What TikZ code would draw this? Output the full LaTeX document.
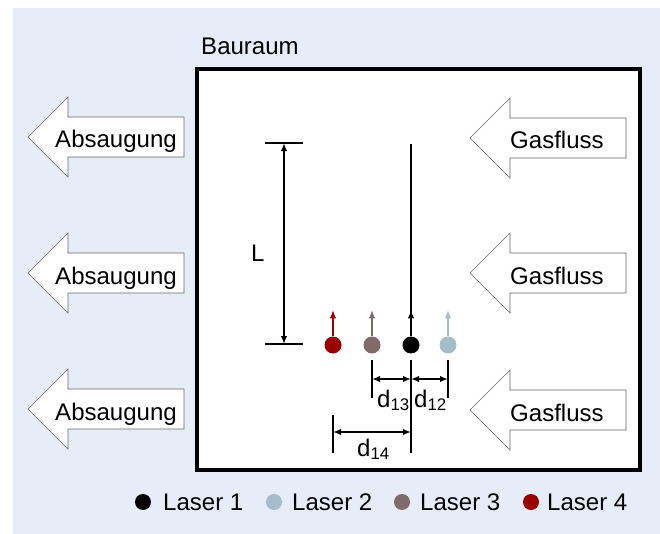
\documentclass[tikz,border=0pt]{standalone}
\usepackage{fontspec}
\setmainfont{Liberation Sans}
\usetikzlibrary{arrows.meta}
\definecolor{bgblue}{RGB}{230,237,248}
\definecolor{laserblue}{RGB}{165,188,202}
\definecolor{laserbrown}{RGB}{128,106,106}
\definecolor{laserred}{RGB}{155,0,0}

\begin{document}
\begin{tikzpicture}[x=0.03cm,y=-0.03cm,
        txt/.style={font=\fontsize{20.5}{24}\selectfont,inner sep=0pt,anchor=base west},
        blockarrow/.style={draw=black!60,fill=white,line width=0.5pt},
        dot/.style={circle,inner sep=0pt,minimum size=0.51cm},
        legdot/.style={circle,inner sep=0pt,minimum size=0.48cm},
        dim/.style={line width=1.3pt},
        tip/.tip={Latex[length=0.24cm,width=0.19cm]},
        beam/.style={line width=0.9pt,-tip}]
                \useasboundingbox(0,0)rectangle(660,534);
                \fill[bgblue](13,8)rectangle(660,534);
                \draw[fill=white,line width=3.4pt](197,69)rectangle(640,470);
                \node[txt] (bauraum) at (201,55){Bauraum};
                % Absaugung
                \draw[blockarrow](28,137)--++(40,-40)--++(0,20)--++(116,0)--++(0,40)--++(-116,0)--++(0,20)--cycle;
                \draw[blockarrow](28,273)--++(40,-40)--++(0,20)--++(116,0)--++(0,40)--++(-116,0)--++(0,20)--cycle;
                \draw[blockarrow](28,409)--++(40,-40)--++(0,20)--++(116,0)--++(0,40)--++(-116,0)--++(0,20)--cycle;
                \node[txt] (abs1) at (55,148){Absaugung};
                \node[txt] (abs2) at (55,284){Absaugung};
                \node[txt] (abs3) at (55,420){Absaugung};
                % Gasfluss
                \draw[blockarrow](470,138)--++(40,-40)--++(0,20)--++(116,0)--++(0,40)--++(-116,0)--++(0,20)--cycle;
                \draw[blockarrow](470,273)--++(40,-40)--++(0,20)--++(116,0)--++(0,40)--++(-116,0)--++(0,20)--cycle;
                \draw[blockarrow](470,410)--++(40,-40)--++(0,20)--++(116,0)--++(0,40)--++(-116,0)--++(0,20)--cycle;
                \node[txt] (gas1) at (510,149){Gasfluss};
                \node[txt] (gas2) at (510,284){Gasfluss};
                \node[txt] (gas3) at (510,421){Gasfluss};
                % Laenge L
                \coordinate (ltop) at (284,143);
                \coordinate (lbot) at (284,344);
                \draw[dim](265,143)--(303,143);
                \draw[dim](265,344)--(303,344);
                \draw[dim,tip-tip](ltop)--(lbot);
                \node[txt] (lab) at (251,262){L};
                % Laser
                \node[dot,fill=laserred] (l4) at (333,345){};
                \node[dot,fill=laserbrown] (l3) at (372,345){};
                \node[dot,fill=black] (l1) at (411,345){};
                \node[dot,fill=laserblue] (l2) at (448,345){};
                \coordinate (track) at (411,144);
                \draw[dim](l1.north)--(track);
                \draw[beam](l1.north)--++(0,-26);
                \draw[beam,laserred](l4.north)--++(0,-26);
                \draw[beam,laserbrown](l3.north)--++(0,-26);
                \draw[beam,laserblue](l2.north)--++(0,-26);
                % Abstaende
                \coordinate (t3) at (372,379);
                \coordinate (t1) at (411,379);
                \coordinate (t2) at (448,379);
                \coordinate (t4) at (333,432);
                \coordinate (t1b) at (411,432);
                \draw[dim](372,360)--(372,398);
                \draw[dim](411,360)--(411,453);
                \draw[dim](448,360)--(448,398);
                \draw[dim](333,415)--(333,453);
                \draw[dim,tip-tip](t3)--(t1);
                \draw[dim,tip-tip](t1)--(t2);
                \draw[dim,tip-tip](t4)--(t1b);
                \node[txt] (d13) at (377,407){d\textsubscript{13}};
                \node[txt] (d12) at (414,407){d\textsubscript{12}};
                \node[txt] (d14) at (357,456){d\textsubscript{14}};
                % Legende
                \node[legdot,fill=black] (leg1) at (143,502){};
                \node[legdot,fill=laserblue] (leg2) at (274,502){};
                \node[legdot,fill=laserbrown] (leg3) at (402,502){};
                \node[legdot,fill=laserred] (leg4) at (531,502){};
                \node[txt] (las1) at (163,510){Laser 1};
                \node[txt] (las2) at (292,510){Laser 2};
                \node[txt] (las3) at (420,510){Laser 3};
                \node[txt] (las4) at (547,510){Laser 4};
            \end{tikzpicture}
\end{document}
